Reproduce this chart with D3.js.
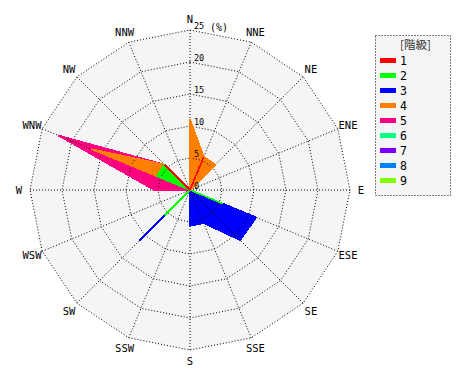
<!DOCTYPE html>
<html>
<head>
<meta charset="utf-8">
<script src="https://cdn.jsdelivr.net/npm/d3@7"></script>
<style>
  html, body { margin: 0; padding: 0; background: #ffffff; }
  svg { display: block; }
</style>
</head>
<body>
<svg id="chart" width="470" height="380"></svg>
<script>
// ---- data (percent of observations per direction, per class) ----
const directions = ["N","NNE","NE","ENE","E","ESE","SE","SSE","S","SSW","SW","WSW","W","WNW","NW","NNW"];
const classNames = ["1","2","3","4","5","6","7","8","9"];
const classColors = ["#ff0000","#00ff00","#0000ff","#ff8000","#ff0080","#00ff80","#8000ff","#0080ff","#80ff00"];
//                 N    NNE  NE   ENE  E    ESE  SE    SSE  S    SSW  SW   WSW  W    WNW   NW   NNW
const class1 = [   0,  5.6,   0,   0,   0,   0,    0,   0,   0,   0,   0,   0,   0,    0, 5.6,   0];
const class2 = [   0,    0,   0,   0,   0, 5.6,    0,   0,   0,   0, 5.6,   0,   0,  5.6,   0,   0];
const class3 = [   0,    0,   0,   0,   0, 5.6, 11.1, 5.6, 5.6,   0, 5.6,   0,   0,    0,   0,   0];
const class4 = [11.1,    0, 5.6,   0,   0,   0,    0,   0,   0,   0,   0,   0,   0, 11.1,   0,   0];
const class5 = [   0,    0,   0,   0,   0,   0,    0,   0,   0,   0,   0,   0, 5.6,  5.6,   0,   0];
const class6 = [   0,    0,   0,   0,   0,   0,    0,   0,   0,   0,   0,   0,   0,    0,   0,   0];
const class7 = [   0,    0,   0,   0,   0,   0,    0,   0,   0,   0,   0,   0,   0,    0,   0,   0];
const class8 = [   0,    0,   0,   0,   0,   0,    0,   0,   0,   0,   0,   0,   0,    0,   0,   0];
const class9 = [   0,    0,   0,   0,   0,   0,    0,   0,   0,   0,   0,   0,   0,    0,   0,   0];
const ringTicks = [5, 10, 15, 20, 25];
const tickLabels = ["5", "10", "15", "20", "25"];
const unitLabel = "(%)";
const legendTitle = "[階級]";

// ---- build ----
const classValues = [class1, class2, class3, class4, class5, class6, class7, class8, class9];
const rows = directions.map((d, i) => {
  const r = { dir: d };
  classNames.forEach((k, j) => { r[k] = classValues[j][i]; });
  return r;
});
const stacked = d3.stack().keys(classNames)(rows);
const drawOrder = stacked.slice().reverse();

const cx = 190, cy = 190, R = 160;
const rScale = d3.scaleLinear().domain([0, 25]).range([0, R]);
const angle = d3.scaleLinear().domain([0, directions.length]).range([0, 2 * Math.PI]);

const svg = d3.select("#chart");
const g = svg.append("g").attr("transform", `translate(${cx},${cy})`);

const ringLine = d3.lineRadial()
  .angle((d, i) => angle(i))
  .radius(d => rScale(d))
  .curve(d3.curveLinearClosed);

// background
g.append("path")
  .attr("d", ringLine(directions.map(() => 25)))
  .attr("fill", "#f5f5f5")
  .attr("stroke", "none");

// stacked polygons, outermost first
const areaLine = d3.lineRadial()
  .angle((d, i) => angle(i))
  .radius(d => rScale(d[1]))
  .curve(d3.curveLinearClosed);
const colorOf = s => classColors[classNames.indexOf(s.key)];

g.selectAll("path.series")
  .data(drawOrder)
  .join("path")
  .attr("class", "series")
  .attr("d", s => areaLine(s))
  .attr("fill", colorOf)
  .attr("stroke", colorOf)
  .attr("stroke-width", 1)
  .attr("shape-rendering", "crispEdges");

// grid rings
g.selectAll("path.ring")
  .data(ringTicks)
  .join("path")
  .attr("class", "ring")
  .attr("d", t => ringLine(directions.map(() => t)))
  .attr("fill", "none")
  .attr("stroke", "#000")
  .attr("stroke-width", 1)
  .attr("stroke-dasharray", "1,2");

// spokes
g.selectAll("line.spoke")
  .data(directions)
  .join("line")
  .attr("class", "spoke")
  .attr("x1", 0).attr("y1", 0)
  .attr("x2", (d, i) => rScale(25) * Math.sin(angle(i)))
  .attr("y2", (d, i) => -rScale(25) * Math.cos(angle(i)))
  .attr("stroke", "#000")
  .attr("stroke-width", 1)
  .attr("stroke-dasharray", "1,2");

// polygon outlines on top (crisp so coincident outlines fully overwrite)
g.selectAll("path.outline")
  .data(drawOrder)
  .join("path")
  .attr("class", "outline")
  .attr("d", s => areaLine(s))
  .attr("fill", "none")
  .attr("stroke", colorOf)
  .attr("stroke-width", 1.6)
  .attr("stroke-linejoin", "bevel")
  .attr("shape-rendering", "crispEdges");

// direction labels
const labR = rScale(25) + 11;
g.selectAll("text.dir")
  .data(directions)
  .join("text")
  .attr("class", "dir")
  .attr("x", (d, i) => labR * Math.sin(angle(i)))
  .attr("y", (d, i) => -labR * Math.cos(angle(i)))
  .attr("text-anchor", "middle")
  .attr("dominant-baseline", "central")
  .attr("font-family", "DejaVu Sans Mono, monospace")
  .attr("font-size", 10.5)
  .attr("fill", "#000")
  .text(d => d);

// tick labels
g.selectAll("text.tick")
  .data(ringTicks)
  .join("text")
  .attr("class", "tick")
  .attr("x", 4)
  .attr("y", t => -rScale(t) - 1)
  .attr("font-family", "DejaVu Sans Mono, monospace")
  .attr("font-size", 8.5)
  .attr("fill", "#000")
  .text((t, i) => tickLabels[i]);
g.append("text")
  .attr("x", 4).attr("y", -1)
  .attr("font-family", "DejaVu Sans Mono, monospace")
  .attr("font-size", 8.5)
  .attr("fill", "#000")
  .text("0");
g.append("text")
  .attr("x", 20).attr("y", -rScale(25) + 0.5)
  .attr("font-family", "DejaVu Sans Mono, monospace")
  .attr("font-size", 10)
  .attr("fill", "#000")
  .text(unitLabel);

// legend
const lg = svg.append("g").attr("transform", "translate(375.5,35.5)");
lg.append("rect")
  .attr("width", 75).attr("height", 160)
  .attr("fill", "#f5f5f5")
  .attr("stroke", "#000")
  .attr("stroke-dasharray", "1,2");
lg.append("text")
  .attr("x", 40).attr("y", 8.5)
  .attr("text-anchor", "middle")
  .attr("dominant-baseline", "central")
  .attr("font-family", "Noto Sans CJK JP, sans-serif")
  .attr("font-size", 11.5)
  .attr("fill", "#333")
  .text(legendTitle);
const items = lg.selectAll("g.item")
  .data(classNames)
  .join("g")
  .attr("class", "item")
  .attr("transform", (d, i) => `translate(4.5,${25 + i * 15})`);
items.append("rect")
  .attr("x", 0).attr("y", -2.5)
  .attr("width", 16).attr("height", 5)
  .attr("fill", (d, i) => classColors[i]);
items.append("text")
  .attr("x", 20).attr("y", 0)
  .attr("dominant-baseline", "central")
  .attr("font-family", "DejaVu Sans Mono, monospace")
  .attr("font-size", 11.5)
  .attr("fill", "#000")
  .text(d => d);
</script>
</body>
</html>
